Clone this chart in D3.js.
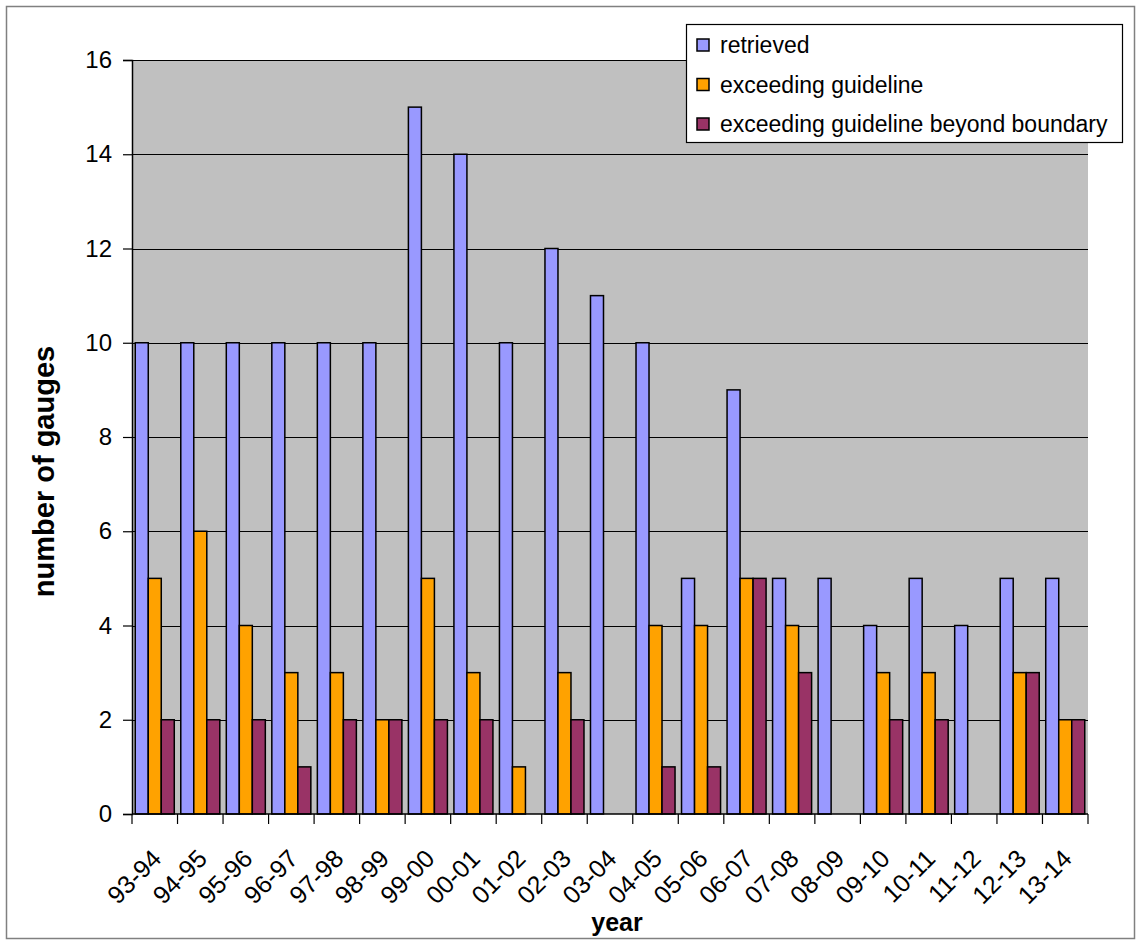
<!DOCTYPE html>
<html>
<head>
<meta charset="utf-8">
<script src="https://cdn.jsdelivr.net/npm/d3@7"></script>
<style>
  html, body { margin: 0; padding: 0; background: #fff; }
  svg { display: block; font-family: "Liberation Sans", Arial, sans-serif; }
</style>
</head>
<body>
<svg id="chart" width="1139" height="945"></svg>
<script>
// Gauge counts per reporting year
const years = ["93-94","94-95","95-96","96-97","97-98","98-99","99-00","00-01","01-02","02-03",
               "03-04","04-05","05-06","06-07","07-08","08-09","09-10","10-11","11-12","12-13","13-14"];
const retrieved = [10,10,10,10,10,10,15,14,10,12,11,10,5,9,5,5,4,5,4,5,5];
const exceeding = [5,6,4,3,3,2,5,3,1,3,0,4,4,5,4,0,3,3,0,3,2];
const beyondBoundary = [2,2,2,1,2,2,2,2,0,2,0,1,1,5,3,0,2,2,0,3,2];
const seriesNames = ["retrieved", "exceeding guideline", "exceeding guideline beyond boundary"];
const seriesColors = ["#9999FF", "#FFA200", "#993366"];
const yTicks = [0,2,4,6,8,10,12,14,16];

const series = [retrieved, exceeding, beyondBoundary];
const svg = d3.select("#chart");

// outer chart frame
svg.append("rect")
  .attr("x", 6.5).attr("y", 6.5).attr("width", 1128).attr("height", 932)
  .attr("fill", "#fff").attr("stroke", "#808080").attr("stroke-width", 1.5);

const plotLeft = 132, plotRight = 1088, plotTop = 60, plotBottom = 814;

const x = d3.scaleBand().domain(years).range([plotLeft, plotRight]).paddingInner(0).paddingOuter(0);
const step = x.bandwidth();
// three bars per year with a 150% gap
const x1 = d3.scaleBand().domain(d3.range(series.length))
  .range([0, step]).paddingInner(0).paddingOuter(0.25);
const y = d3.scaleLinear().domain([0, 16]).range([plotBottom, plotTop]);

// plot background
svg.append("rect")
  .attr("x", plotLeft).attr("y", plotTop)
  .attr("width", plotRight - plotLeft).attr("height", plotBottom - plotTop)
  .attr("fill", "#C0C0C0");

// horizontal gridlines
svg.append("g").selectAll("line").data(yTicks.filter(d => d > 0)).join("line")
  .attr("x1", plotLeft).attr("x2", plotRight)
  .attr("y1", d => Math.round(y(d)) + 0.5).attr("y2", d => Math.round(y(d)) + 0.5)
  .attr("stroke", "#000").attr("stroke-width", 1);

// bars
const groups = svg.append("g").selectAll("g").data(years).join("g")
  .attr("transform", d => `translate(${x(d)},0)`);
groups.selectAll("rect")
  .data((d, i) => series.map((s, k) => ({ k, v: s[i] })).filter(e => e.v > 0))
  .join("rect")
  .attr("x", e => x1(e.k))
  .attr("width", x1.bandwidth())
  .attr("y", e => y(e.v))
  .attr("height", e => y(0) - y(e.v))
  .attr("fill", e => seriesColors[e.k])
  .attr("stroke", "#000").attr("stroke-width", 1.5);

// y axis
const yAxis = d3.axisLeft(y).tickValues(yTicks).tickSize(9).tickPadding(11).tickFormat(d3.format("d"));
const gy = svg.append("g").attr("transform", `translate(${plotLeft},0)`).call(yAxis);
gy.select(".domain").attr("stroke", "#000").attr("stroke-width", 1.5);
gy.selectAll(".tick line").attr("stroke", "#000").attr("stroke-width", 1.2);
gy.selectAll(".tick text").attr("font-size", 24).attr("fill", "#000")
  .attr("font-family", "Liberation Sans, Arial, sans-serif");

// x axis: ticks between categories
const boundaries = d3.range(years.length + 1).map(i => plotLeft + i * step);
const gx = svg.append("g");
gx.append("line").attr("x1", plotLeft).attr("x2", plotRight)
  .attr("y1", plotBottom).attr("y2", plotBottom).attr("stroke", "#000").attr("stroke-width", 1.5);
gx.selectAll("line.tk").data(boundaries).join("line").attr("class", "tk")
  .attr("x1", d => d).attr("x2", d => d).attr("y1", plotBottom).attr("y2", plotBottom + 10)
  .attr("stroke", "#000").attr("stroke-width", 1.2);
gx.selectAll("text").data(years).join("text")
  .attr("transform", d => `translate(${x(d) + step / 2 + 2},${plotBottom + 40}) rotate(-45)`)
  .attr("text-anchor", "end")
  .attr("dy", "0.35em")
  .attr("font-size", 25)
  .attr("fill", "#000")
  .text(d => d);

// axis titles
svg.append("text")
  .attr("transform", `translate(54,${(340 + 603) / 2}) rotate(-90)`)
  .attr("text-anchor", "middle")
  .attr("font-size", 29).attr("font-weight", "bold")
  .text("number of gauges");
svg.append("text")
  .attr("x", 617).attr("y", 931)
  .attr("text-anchor", "middle")
  .attr("font-size", 25).attr("font-weight", "bold")
  .text("year");

// legend
const lg = svg.append("g");
lg.append("rect").attr("x", 686.5).attr("y", 24.5).attr("width", 436).attr("height", 118)
  .attr("fill", "#fff").attr("stroke", "#000").attr("stroke-width", 1.2);
const items = lg.selectAll("g").data(seriesNames).join("g")
  .attr("transform", (d, i) => `translate(697,${45 + i * 39.5})`);
items.append("rect").attr("x", 0).attr("y", -6).attr("width", 12).attr("height", 12)
  .attr("fill", (d, i) => seriesColors[i]).attr("stroke", "#000").attr("stroke-width", 1.5);
items.append("text").attr("x", 23).attr("dy", "0.35em")
  .attr("font-size", 23).attr("fill", "#000")
  .text(d => d);
</script>
</body>
</html>
